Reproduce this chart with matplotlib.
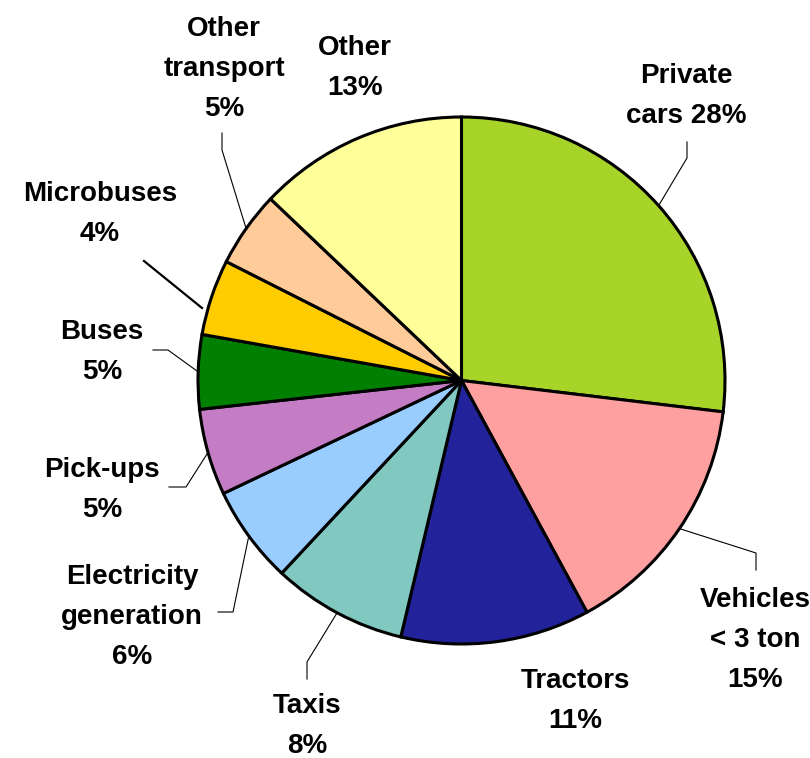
import numpy as np
import matplotlib
matplotlib.use("Agg")
import matplotlib.pyplot as plt

# shares (clockwise from 12 o'clock)
categories = ["Private cars", "Vehicles < 3 ton", "Tractors", "Taxis",
              "Electricity generation", "Pick-ups", "Buses", "Microbuses",
              "Other transport", "Other"]
values = [26.9, 15.2, 11.6, 8.25, 6.0, 5.3, 4.55, 4.65, 4.65, 12.9]
labels = ["Private\ncars 28%", "Vehicles\n< 3 ton\n15%", "Tractors\n11%",
          "Taxis\n8%", "Electricity\ngeneration\n6%", "Pick-ups\n5%",
          "Buses\n5%", "Microbuses\n4%", "Other\ntransport\n5%", "Other\n13%"]
colors = ["#A8D42A", "#FFA0A0", "#22229A", "#80C8C0", "#99CCFF",
          "#C47CC4", "#007F00", "#FFCC00", "#FFCC99", "#FFFF99"]

W, H = 810, 758
# label anchor (x centre, top of first line) in pixel coords, y from top
label_pos = [(686, 63), (755, 587), (575, 668), (307, 693), (132, 564),
             (102, 457), (102, 319), (100, 181), (224, 16), (355, 35)]
# leader elbows in pixel coords (None = no leader)
leader_pts = [[(687, 158), (687, 142)],
              [(756, 553), (756, 570)],
              None,
              [(307, 662), (307, 679)],
              [(233, 612), (218, 612)],
              [(186, 487), (169, 487)],
              [(168, 350), (153, 350)],
              None,
              [(222, 150), (222, 133)],
              None]

cx, cy, r = 461.5, H - 380.5, 263.5

fig = plt.figure(figsize=(W / 100, H / 100), dpi=100)
ax = fig.add_axes([0, 0, 1, 1])
wedges, _ = ax.pie(values, colors=colors, startangle=90, counterclock=False,
                   center=(cx, cy), radius=r,
                   wedgeprops=dict(edgecolor="black", linewidth=2.2))
ax.set_xlim(0, W)
ax.set_ylim(0, H)
ax.set_aspect("equal")
ax.axis("off")

fs = 20
ls = 1.71

for w, lab, pos, pts in zip(wedges, labels, label_pos, leader_pts):
    ax.text(pos[0], H - pos[1], lab, ha="center", va="top", ma="center",
            fontsize=fs, fontweight="bold", family="Liberation Sans",
            linespacing=ls)
    if pts is None:
        continue
    mid = np.deg2rad((w.theta1 + w.theta2) / 2)
    ex, ey = cx + r * np.cos(mid), cy + r * np.sin(mid)
    xs = [ex] + [p[0] for p in pts]
    ys = [ey] + [H - p[1] for p in pts]
    ax.plot(xs, ys, color="black", lw=0.8, zorder=0)

# microbuses leader stops short of the pie
ax.plot([144, 202], [H - 261, H - 308], color="black", lw=1.6)

fig.savefig("out.png", dpi=100)
